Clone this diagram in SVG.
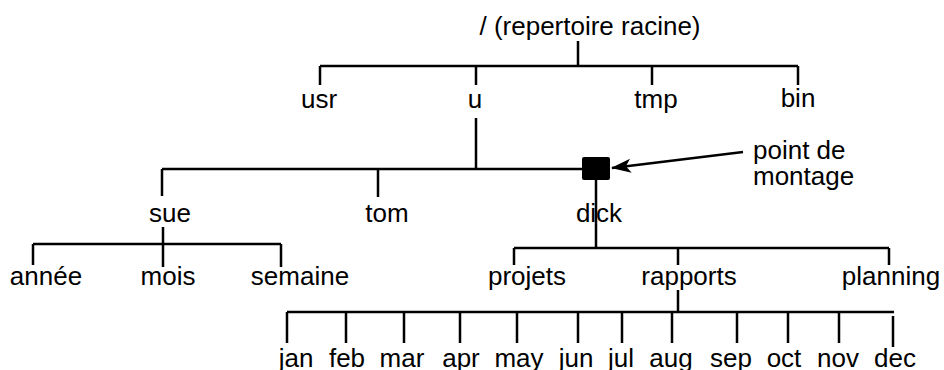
<svg xmlns="http://www.w3.org/2000/svg" width="944" height="370" viewBox="0 0 944 370">
  <style>
    text { font-family: "Liberation Sans", Arial, Helvetica, sans-serif; font-size: 26px; fill: #000; text-anchor: middle; }
    .lbl-left { text-anchor: start; }
    .edge { stroke: #000; stroke-width: 2.5; fill: none; stroke-linecap: butt; }
  </style>
  <defs>
    <marker id="arrowhead" viewBox="0 0 20 14" refX="19" refY="7" markerWidth="20" markerHeight="14" markerUnits="userSpaceOnUse" orient="auto">
      <path d="M0,0 L20,7 L0,14 L5,7 Z" fill="#000"/>
    </marker>
  </defs>
  <rect width="944" height="370" fill="#fff"/>

  <g id="connectors">
    <!-- root level -->
    <path class="edge" d="M578,41 V66 M320,66 H798 M320,66 V85 M476,66 V85 M652,66 V85 M798,66 V85"/>
    <!-- u -->
    <path class="edge" d="M476,118 V169 M162,169 H583 M162,169 V196 M378,169 V197"/>
    <!-- dick below the mount point -->
    <path class="edge" d="M596,180 V248 M514,248 H889 M514,248 V265 M678,248 V265 M889,248 V265"/>
    <!-- sue -->
    <path class="edge" d="M163,227 V244 M33,244 H281 M33,244 V265 M163,244 V267 M281,244 V267"/>
    <!-- rapports -->
    <path class="edge" d="M678,290 V312 M287,312 H894 M287,312 V343 M346,312 V343 M404,312 V343 M460,312 V343 M517,312 V343 M578,312 V343 M622,312 V343 M672,312 V343 M737,312 V343 M788,312 V343 M839,312 V343 M893,316 V347"/>
    <!-- pointer to the mount point -->
    <line class="edge" x1="743" y1="152" x2="612" y2="168" marker-end="url(#arrowhead)"/>
  </g>

  <g id="root"><text x="590" y="35">/ (repertoire racine)</text></g>
  <g id="usr"><text x="319" y="108">usr</text></g>
  <g id="u"><text x="475" y="108">u</text></g>
  <g id="tmp"><text x="656" y="108">tmp</text></g>
  <g id="bin"><text x="798" y="107">bin</text></g>

  <g id="mount-point"><rect x="582" y="157" width="28" height="23" rx="2" fill="#000"/></g>
  <g id="mount-label">
    <text class="lbl-left" x="753" y="159">point de</text>
    <text class="lbl-left" x="753" y="185">montage</text>
  </g>

  <g id="sue"><text x="170" y="222">sue</text></g>
  <g id="tom"><text x="387" y="222">tom</text></g>
  <g id="dick"><text x="599" y="222">dick</text></g>

  <g id="annee"><text x="46" y="285">année</text></g>
  <g id="mois"><text x="168" y="285">mois</text></g>
  <g id="semaine"><text x="300" y="285">semaine</text></g>

  <g id="projets"><text x="527" y="285">projets</text></g>
  <g id="rapports"><text x="689" y="285">rapports</text></g>
  <g id="planning"><text x="891" y="285">planning</text></g>

  <g id="months">
    <text x="296" y="367">jan</text>
    <text x="347" y="367">feb</text>
    <text x="402" y="367">mar</text>
    <text x="461" y="367">apr</text>
    <text x="519" y="367">may</text>
    <text x="576" y="367">jun</text>
    <text x="621" y="367">jul</text>
    <text x="671" y="367">aug</text>
    <text x="731" y="367">sep</text>
    <text x="784" y="367">oct</text>
    <text x="838" y="367">nov</text>
    <text x="895" y="367">dec</text>
  </g>
</svg>
